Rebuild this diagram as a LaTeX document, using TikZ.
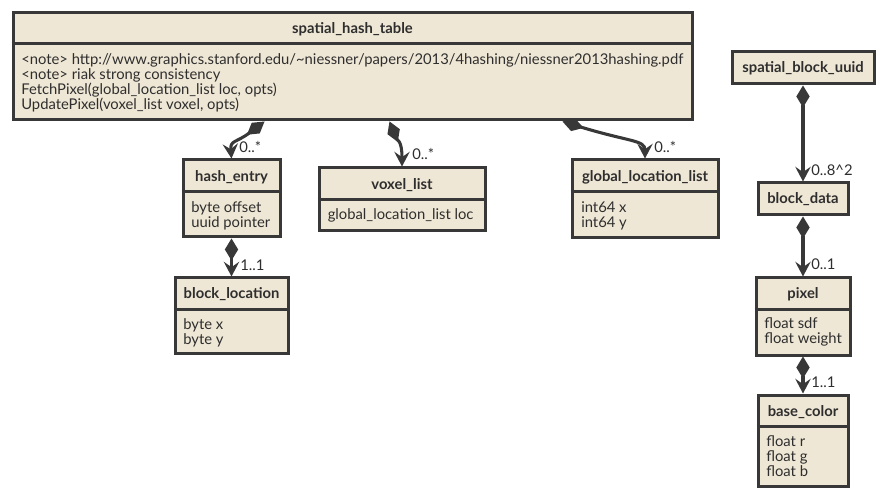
\documentclass[tikz,border=0pt]{standalone}
\usepackage{fontspec}
\setmainfont{Lato}
\usetikzlibrary{arrows.meta,backgrounds,calc}
\definecolor{cfill}{HTML}{EFE7D5}
\definecolor{cline}{HTML}{383838}
\definecolor{ctext}{HTML}{2E2E2E}
\newcommand{\umlbox}[5]{%
  \node[cls, minimum width={(#4-#2)*0.75pt}, minimum height={(#5-#3)*0.75pt}] (#1) at ({(#2+#4)/2},{(#3+#5)/2}) {};}
\begin{document}
\begin{tikzpicture}[x=0.75pt,y=-0.75pt,
  cls/.style={draw=cline, fill=cfill, line width=2.25pt, inner sep=0pt, rectangle},
  divline/.style={draw=cline, line width=2.25pt},
  ttl/.style={text=ctext, inner sep=0pt, font=\fontsize{11.1}{12}\selectfont\bfseries},
  txt/.style={text=ctext, inner sep=0pt, font=\fontsize{11.1}{12}\selectfont},
  lbl/.style={text=ctext, inner sep=0pt, font=\fontsize{11.1}{12}\selectfont},
  conn/.style={draw=cline, line width=2.3pt,
    {Diamond[length=16.5pt,width=10pt]}-{Stealth[length=11pt,width=11.5pt,inset=4pt]}}]
\useasboundingbox (0,0) rectangle (886,499);

% spatial_hash_table
\umlbox{sht}{13}{13}{692}{120}
\draw[divline] (sht.west |- 0,44) -- (sht.east |- 0,44);
\node[ttl, anchor=base] (sht-t) at (352.5,34) {spatial\_hash\_table};
\node[txt, anchor=base west] (sht-1) at (21,64.5) {<note> http://www.graphics.stanford.edu/\textasciitilde niessner/papers/2013/4hashing/niessner2013hashing.pdf};
\node[txt, anchor=base west] (sht-2) at (21,79.5) {<note> riak strong consistency};
\node[txt, anchor=base west] (sht-3) at (21,94.5) {FetchPixel(global\_location\_list loc, opts)};
\node[txt, anchor=base west] (sht-4) at (21,109.5) {UpdatePixel(voxel\_list voxel, opts)};

% hash_entry
\umlbox{he}{183}{160}{280}{237}
\draw[divline] (he.west |- 0,192) -- (he.east |- 0,192);
\node[ttl, anchor=base] (he-t) at (231.5,182) {hash\_entry};
\node[txt, anchor=base west] (he-1) at (191,212.5) {byte offset};
\node[txt, anchor=base west] (he-2) at (191,227.5) {uuid pointer};

% voxel_list
\umlbox{vl}{319}{168}{485}{231}
\draw[divline] (vl.west |- 0,200) -- (vl.east |- 0,200);
\node[ttl, anchor=base] (vl-t) at (402,190) {voxel\_list};
\node[txt, anchor=base west] (vl-1) at (327.5,220) {global\_location\_list loc};

% global_location_list
\umlbox{gl}{572}{160}{718}{238}
\draw[divline] (gl.west |- 0,192) -- (gl.east |- 0,192);
\node[ttl, anchor=base] (gl-t) at (645,182) {global\_location\_list};
\node[txt, anchor=base west] (gl-1) at (581,212.5) {int64 x};
\node[txt, anchor=base west] (gl-2) at (581,227.5) {int64 y};

% block_location
\umlbox{bl}{175}{278}{288}{353}
\draw[divline] (bl.west |- 0,309) -- (bl.east |- 0,309);
\node[ttl, anchor=base] (bl-t) at (231.5,299) {block\_location};
\node[txt, anchor=base west] (bl-1) at (183,329.5) {byte x};
\node[txt, anchor=base west] (bl-2) at (183,344.5) {byte y};

% spatial_block_uuid
\umlbox{sbu}{732}{52}{874}{84}
\node[ttl, anchor=base] (sbu-t) at (803,72.5) {spatial\_block\_uuid};

% block_data
\umlbox{bd}{758}{183}{848}{215}
\node[ttl, anchor=base] (bd-t) at (803,203.5) {block\_data};

% pixel
\umlbox{px}{756}{278}{850}{355}
\draw[divline] (px.west |- 0,309) -- (px.east |- 0,309);
\node[ttl, anchor=base] (px-t) at (803,299) {pixel};
\node[txt, anchor=base west] (px-1) at (764,329) {float sdf};
\node[txt, anchor=base west] (px-2) at (764,344) {float weight};

% base_color
\umlbox{bc}{758}{395}{848}{486}
\draw[divline] (bc.west |- 0,426) -- (bc.east |- 0,426);
\node[ttl, anchor=base] (bc-t) at (803,416) {base\_color};
\node[txt, anchor=base west] (bc-1) at (766,446) {float r};
\node[txt, anchor=base west] (bc-2) at (766,461) {float g};
\node[txt, anchor=base west] (bc-3) at (766,476) {float b};

% connectors
\begin{scope}[on background layer]
\fill[white] (0,0) rectangle (886,499);
\draw[conn] ($(sht.south west)+(253,0)$) .. controls (236,143) and (230,140) .. (he.north);
\draw[conn] ($(sht.south west)+(378,0)$) .. controls (397,140) and (402,140) .. (vl.north);
\draw[conn] ($(sht.south west)+(551,0)$) .. controls (630,142) and (645,140) .. (gl.north);
\draw[conn] (he.south) -- (bl.north);
\draw[conn] (sbu.south) -- (bd.north);
\draw[conn] (bd.south) -- (px.north);
\draw[conn] (px.south) -- (bc.north);
\end{scope}

% multiplicity labels
\node[lbl, anchor=base west] (m1) at (239,152.5) {0..*};
\node[lbl, anchor=base west] (m2) at (412,159.5) {0..*};
\node[lbl, anchor=base west] (m3) at (654,152.5) {0..*};
\node[lbl, anchor=base west] (m4) at (240,270.5) {1..1};
\node[lbl, anchor=base west] (m5) at (811,176) {0..8\textasciicircum 2};
\node[lbl, anchor=base west] (m6) at (811,270) {0..1};
\node[lbl, anchor=base west] (m7) at (811,387.5) {1..1};
\end{tikzpicture}
\end{document}
